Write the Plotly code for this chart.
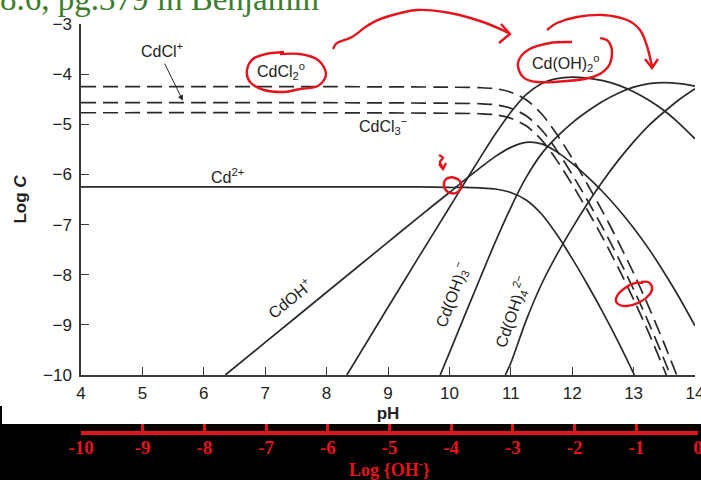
import plotly.graph_objects as go

# ---------------- data: log C of dissolved Cd species vs pH ----------------
ph_cd = [4, 6, 8, 9, 9.5, 10, 10.25, 10.5, 10.75, 11, 11.25, 11.5, 11.75, 12,
         12.25, 12.5, 12.75, 13, 13.25]
logc_cd = [-6.25, -6.25, -6.25, -6.25, -6.25, -6.26, -6.26, -6.27, -6.29, -6.36,
           -6.51, -6.79, -7.20, -7.68, -8.20, -8.75, -9.34, -9.97, -10.65]

ph_cdoh = [6.35, 7, 8, 9, 9.5, 10, 10.25, 10.5, 10.75, 11, 11.25, 11.5, 11.75,
           12, 12.25, 12.5, 12.75, 13, 13.25, 13.5, 13.75, 14]
logc_cdoh = [-10.0, -9.35, -8.35, -7.35, -6.85, -6.36, -6.11, -5.87, -5.64, -5.46,
             -5.36, -5.39, -5.55, -5.78, -6.05, -6.35, -6.69, -7.07, -7.49,
             -7.96, -8.47, -9.02]

ph_cdoh2 = [8.33, 9, 9.5, 10, 10.25, 10.5, 10.75, 11, 11.25, 11.5, 11.75, 12,
            12.25, 12.5, 12.75, 13, 13.25, 13.5, 13.75, 14]
logc_cdoh2 = [-10.0, -8.65, -7.65, -6.66, -6.16, -5.67, -5.19, -4.76, -4.41,
              -4.19, -4.09, -4.06, -4.08, -4.13, -4.22, -4.35, -4.52, -4.73,
              -4.99, -5.29]

ph_cdoh3 = [9.85, 10, 10.25, 10.5, 10.75, 11, 11.25, 11.5, 11.75, 12, 12.25,
            12.5, 12.75, 13, 13.25, 13.5, 13.75, 14]
logc_cdoh3 = [-10.0, -9.56, -8.81, -8.07, -7.34, -6.66, -6.06, -5.59, -5.25,
              -4.97, -4.74, -4.54, -4.38, -4.26, -4.19, -4.17, -4.19, -4.24]

ph_cdoh4 = [10.91, 11, 11.25, 11.5, 11.75, 12, 12.25, 12.5, 12.75, 13, 13.25,
            13.5, 13.75, 14]
logc_cdoh4 = [-10.0, -9.76, -8.91, -8.19, -7.60, -7.07, -6.58, -6.13, -5.72,
              -5.35, -5.02, -4.75, -4.50, -4.29]

ph_cl = [4, 8, 10, 10.5, 10.75, 11, 11.25, 11.5, 11.75, 12, 12.25, 12.5, 12.75,
         13, 13.25, 13.5, 13.75]
logc_cdcl2 = [-4.25, -4.25, -4.26, -4.27, -4.29, -4.36, -4.51, -4.79, -5.20,
              -5.68, -6.20, -6.75, -7.34, -7.97, -8.65, -9.38, -10.15]
logc_cdcl = [-4.57, -4.57, -4.58, -4.59, -4.61, -4.68, -4.83, -5.11, -5.52,
             -6.00, -6.52, -7.07, -7.66, -8.29, -8.97, -9.70, -10.47]
logc_cdcl3 = [-4.77, -4.77, -4.78, -4.79, -4.81, -4.88, -5.03, -5.31, -5.72,
              -6.20, -6.72, -7.27, -7.86, -8.49, -9.17, -9.90, -10.67]

ph_ticks = list(range(4, 15))
logoh_ticks = list(range(-10, 1))
logoh_labels = [str(v) for v in logoh_ticks]

# ---------------- figure geometry ----------------
W, H = 701, 480
ML, MR, MT, MB = 81, 3, 24, 47
PW, PHh = W - ML - MR, H - MT - MB
PLOT_RIGHT, PLOT_BOTTOM = 695, 375

INK = "#2a2a2a"
AXC = "#3a3a3a"
RED = "#e5141c"
SANS = "Liberation Sans, Arial, sans-serif"
SERIF = "Liberation Serif, Times New Roman, serif"


def fx(x):
    """pixel x -> paper x"""
    return (x - ML) / PW


def fy(y):
    """pixel y -> paper y"""
    return (H - MB - y) / PHh


def smooth_path(pts):
    """Catmull-Rom through pixel points, returned as an SVG path in paper units."""
    P = [(fx(x), fy(y)) for x, y in pts]
    d = "M %.5f,%.5f" % P[0]
    for i in range(len(P) - 1):
        p0 = P[i - 1] if i > 0 else P[i]
        p1, p2 = P[i], P[i + 1]
        p3 = P[i + 2] if i + 2 < len(P) else P[i + 1]
        c1 = (p1[0] + (p2[0] - p0[0]) / 6, p1[1] + (p2[1] - p0[1]) / 6)
        c2 = (p2[0] - (p3[0] - p1[0]) / 6, p2[1] - (p3[1] - p1[1]) / 6)
        d += " C %.5f,%.5f %.5f,%.5f %.5f,%.5f" % (c1 + c2 + p2)
    return d


def poly_path(pts):
    P = [(fx(x), fy(y)) for x, y in pts]
    return "M " + " L ".join("%.5f,%.5f" % p for p in P)


fig = go.Figure()

solid = dict(color=INK, width=1.7, shape="spline", smoothing=0.8)
dashed = dict(color=INK, width=1.7, shape="spline", smoothing=0.8, dash="15px,7px")

fig.add_trace(go.Scatter(x=ph_cl, y=logc_cdcl2, mode="lines", line=dashed, name="CdCl2"))
fig.add_trace(go.Scatter(x=ph_cl, y=logc_cdcl, mode="lines", line=dashed, name="CdCl+"))
fig.add_trace(go.Scatter(x=ph_cl, y=logc_cdcl3, mode="lines", line=dashed, name="CdCl3-"))
fig.add_trace(go.Scatter(x=ph_cd, y=logc_cd, mode="lines", line=solid, name="Cd2+"))
fig.add_trace(go.Scatter(x=ph_cdoh, y=logc_cdoh, mode="lines", line=solid, name="CdOH+"))
fig.add_trace(go.Scatter(x=ph_cdoh2, y=logc_cdoh2, mode="lines", line=solid, name="Cd(OH)2"))
fig.add_trace(go.Scatter(x=ph_cdoh3, y=logc_cdoh3, mode="lines", line=solid, name="Cd(OH)3-"))
fig.add_trace(go.Scatter(x=ph_cdoh4, y=logc_cdoh4, mode="lines", line=solid, name="Cd(OH)4 2-"))

# empty carrier so the log{OH-} scale gets its own axis
fig.add_trace(go.Scatter(x=logoh_ticks, y=[None] * len(logoh_ticks), xaxis="x2",
                         yaxis="y", mode="lines", hoverinfo="skip", name="logOH"))

lab_font = dict(family=SANS, size=16, color="#222222")
labels = [
    (5.32, -3.52, "CdCl<sup>+</sup>", 0),
    (7.26, -3.94, "CdCl<sub>2</sub><sup>o</sup>", 0),
    (8.92, -5.03, "CdCl<sub>3</sub><sup>\u2212</sup>", 0),
    (6.38, -6.03, "Cd<sup>2+</sup>", 0),
    (7.40, -8.46, "CdOH<sup>+</sup>", -39),
    (10.04, -8.40, "Cd(OH)<sub>3</sub><sup>\u2212</sup>", -70),
    (11.02, -8.74, "Cd(OH)<sub>4</sub><sup>2\u2212</sup>", -71),
    (11.90, -3.78, "Cd(OH)<sub>2</sub><sup>o</sup>", 0),
]
annotations = []
for x, y, t, ang in labels:
    annotations.append(dict(x=x, y=y, xref="x", yref="y", text=t, showarrow=False,
                            font=lab_font, textangle=ang))

# pointer from the CdCl+ label to its line
annotations.append(dict(x=5.66, y=-4.53, xref="x", yref="y", ax=5.35, ay=-3.76,
                        axref="x", ayref="y", text="", showarrow=True, arrowhead=2,
                        arrowsize=1.1, arrowwidth=1, arrowcolor=INK, standoff=0))

# page heading
annotations.append(dict(x=fx(-2), y=fy(-1), xref="paper", yref="paper",
                        xanchor="left", yanchor="middle", showarrow=False,
                        text="8.6, pg.379 in Benjamin",
                        font=dict(family=SERIF, size=33, color="#3b7d2c")))

shapes = [
    # dark band behind the log{OH-} scale
    dict(type="rect", xref="paper", yref="paper", x0=fx(-5), x1=fx(W + 5),
         y0=fy(H + 5), y1=fy(424), fillcolor="black", line=dict(width=0), layer="below"),
    dict(type="rect", xref="paper", yref="paper", x0=fx(-2), x1=fx(2),
         y0=fy(424), y1=fy(406), fillcolor="black", line=dict(width=0), layer="below"),
]

red_line = dict(color=RED, width=2.4)
strokes = [
    # loop round CdCl2
    smooth_path([(280, 54), (300, 54), (318, 60), (326, 74), (318, 86), (300, 89),
                 (284, 92), (264, 90), (250, 82), (247, 70), (253, 59), (266, 54),
                 (284, 52)]),
    # sweeping arrow towards Cd(OH)2
    smooth_path([(333, 49), (337, 43), (352, 37), (367, 26), (383, 18), (417, 10),
                 (450, 13), (483, 22), (509, 33)]),
    poly_path([(501, 24), (510, 34), (499, 43)]),
    # loop round Cd(OH)2
    smooth_path([(572, 42), (550, 43), (528, 50), (518, 63), (523, 77), (537, 82),
                 (567, 81), (593, 77), (608, 67), (612, 52), (608, 41), (600, 38)]),
    # second sweeping arrow
    smooth_path([(547, 30), (557, 23), (577, 17), (603, 15), (627, 20), (640, 30),
                 (647, 46), (652, 66)]),
    poly_path([(645, 59), (652, 68), (658, 59)]),
    # small tick-arrow and circle at the Cd2+ / CdOH+ crossing
    smooth_path([(439, 155), (443, 158), (440, 162), (443, 168)]),
    poly_path([(439, 164), (443, 169), (446, 163)]),
    smooth_path([(452, 177), (459, 180), (461, 187), (456, 193), (448, 192),
                 (444, 186), (446, 179), (453, 177)]),
    # loop on the dashed bundle near pH 13
    smooth_path([(643, 283), (635, 283), (625, 288), (617, 296), (617, 303),
                 (626, 306), (640, 302), (650, 294), (652, 287), (648, 282),
                 (641, 282)]),
]
for d in strokes:
    shapes.append(dict(type="path", path=d, xref="paper", yref="paper",
                       line=red_line, layer="above"))

tick_font = dict(family=SANS, size=17, color="#222222")

fig.update_layout(
    width=W, height=H,
    margin=dict(l=ML, r=MR, t=MT, b=MB, pad=0, autoexpand=False),
    paper_bgcolor="white", plot_bgcolor="rgba(0,0,0,0)",
    showlegend=False,
    font=dict(family=SANS, color="#222222"),
    annotations=annotations,
    shapes=shapes,
    xaxis=dict(
        domain=[0, (PLOT_RIGHT - ML) / PW], anchor="y", automargin=False,
        range=[4, 14], tickvals=ph_ticks, ticks="inside", ticklen=8,
        tickwidth=1.2, tickcolor=AXC, showline=True, linecolor=AXC, linewidth=1.5,
        showgrid=False, zeroline=False, tickfont=tick_font, ticklabelstandoff=2,
        ticklabeloverflow="allow",
        title=dict(text="<b>pH</b>", font=dict(family=SANS, size=17), standoff=5),
    ),
    yaxis=dict(
        domain=[fy(PLOT_BOTTOM), 1], anchor="x", automargin=False,
        range=[-10, -3], dtick=1, ticks="inside", ticklen=8, tickwidth=1.2,
        tickcolor=AXC, showline=True, linecolor=AXC, linewidth=1.5,
        showgrid=False, zeroline=False, tickfont=tick_font, ticklabelstandoff=4,
        ticklabeloverflow="allow",
        title=dict(text="<b>Log <i>C</i></b>", font=dict(family=SANS, size=17),
                   standoff=12),
    ),
    xaxis2=dict(
        domain=[0, 1], anchor="free", position=0, side="bottom", automargin=False,
        range=[-10, 0], tickvals=logoh_ticks, ticktext=logoh_labels,
        ticks="inside", ticklen=7, tickwidth=3, tickcolor=RED,
        showline=True, linecolor=RED, linewidth=4,
        showgrid=False, zeroline=False, ticklabelstandoff=-4,
        ticklabeloverflow="allow",
        tickfont=dict(family=SERIF, size=19, color=RED, weight="bold"),
        title=dict(text="<b>Log {OH<sup>-</sup>}</b>",
                   font=dict(family=SERIF, size=18, color=RED), standoff=2),
    ),
)

fig.write_html("out.html")
